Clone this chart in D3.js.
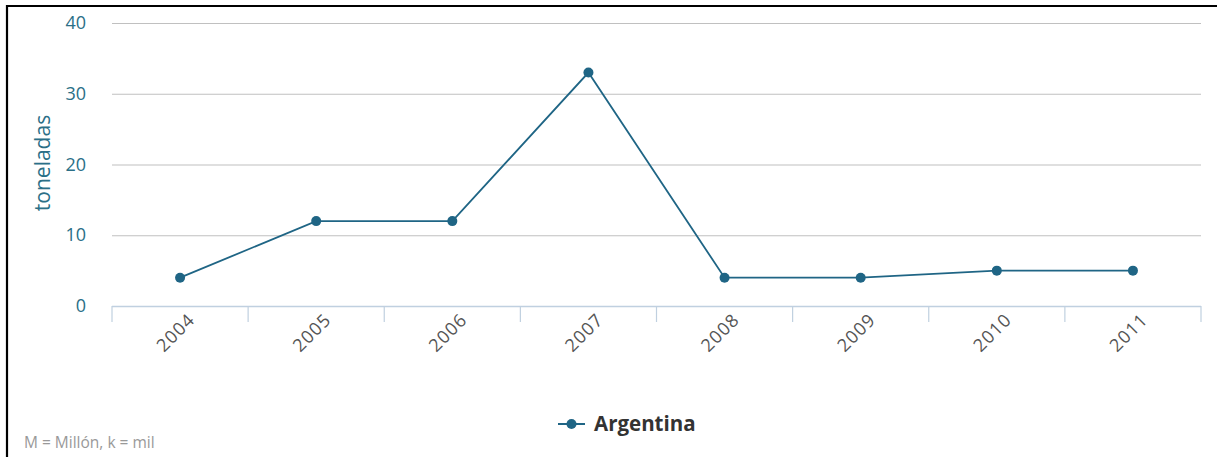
<!DOCTYPE html>
<html><head><meta charset="utf-8">
<script src="https://cdn.jsdelivr.net/npm/d3@7"></script>
<style>
html,body{margin:0;padding:0;background:#fff;}
svg{display:block;font-family:"Open Sans","DejaVu Sans",sans-serif;}
</style></head>
<body>
<svg id="c" width="1217" height="457"></svg>
<script>
const categories = ["2004","2005","2006","2007","2008","2009","2010","2011"];
const values = [4, 12, 12, 33, 4, 4, 5, 5];
const yTicks = [0, 10, 20, 30, 40];
const seriesName = "Argentina";
const yTitle = "toneladas";
const footnote = "M = Millón, k = mil";

(function(){
const svg = d3.select("#c");
const W = 1217, H = 457;
const pL = 112, pR = 1201, pT = 23, pB = 306;
const lineColor = "#1f6585";
const labelColor = "#2b6f87";

// frame (top and left edges)
svg.append("line").attr("x1",7).attr("x2",W).attr("y1",6).attr("y2",6).attr("stroke","#000").attr("stroke-width",2.2);
svg.append("line").attr("x1",7).attr("x2",7).attr("y1",5).attr("y2",H).attr("stroke","#000").attr("stroke-width",2.2);

const x = d3.scaleBand().domain(categories).range([pL, pR]).padding(0);
const y = d3.scaleLinear().domain([0, 40]).range([pB, pT]);

// gridlines
svg.append("g").selectAll("line").data(yTicks.filter(d=>d>0)).join("line")
  .attr("x1", pL).attr("x2", pR)
  .attr("y1", d=>y(d)+0.5).attr("y2", d=>y(d)+0.5)
  .attr("stroke", "#c0c0c0").attr("stroke-width", 1.2);

// y tick labels
svg.append("g").selectAll("text").data(yTicks).join("text")
  .attr("x", 86).attr("y", d=>y(d)+6)
  .attr("text-anchor","end").attr("fill", labelColor)
  .attr("font-size", 18).text(d=>d);

// y title
svg.append("text")
  .attr("transform", `translate(50,${163}) rotate(-90)`)
  .attr("text-anchor","middle").attr("fill", labelColor)
  .attr("font-size", 21).text(yTitle);

// x axis
const gx = svg.append("g").attr("transform", `translate(0,${pB})`);
gx.append("line").attr("x1", pL).attr("x2", pR).attr("y1",0.5).attr("y2",0.5)
  .attr("stroke","#c0d0e0").attr("stroke-width",1.5);
const tickPos = categories.map(c=>x(c)).concat([pR]);
gx.selectAll("line.tk").data(tickPos).join("line").attr("class","tk")
  .attr("x1", d=>d).attr("x2", d=>d).attr("y1",0).attr("y2",16)
  .attr("stroke","#c0d0e0").attr("stroke-width",1.2);
gx.selectAll("text").data(categories).join("text")
  .attr("transform", d=>`translate(${x(d)+x.bandwidth()/2+16},${15}) rotate(-45)`)
  .attr("text-anchor","end").attr("fill","#555").attr("font-size",18)
  .attr("letter-spacing", 1)
  .text(d=>d);

// line
const line = d3.line().x((d,i)=>x(categories[i])+x.bandwidth()/2).y(d=>y(d));
svg.append("path").datum(values).attr("d", line)
  .attr("fill","none").attr("stroke", lineColor).attr("stroke-width",1.8);
svg.append("g").selectAll("circle").data(values).join("circle")
  .attr("cx",(d,i)=>x(categories[i])+x.bandwidth()/2).attr("cy",d=>y(d))
  .attr("r",5).attr("fill",lineColor);

// legend
const lg = svg.append("g").attr("transform","translate(558,424)");
lg.append("line").attr("x1",0).attr("x2",27).attr("y1",0).attr("y2",0).attr("stroke",lineColor).attr("stroke-width",2);
lg.append("circle").attr("cx",13.5).attr("cy",0).attr("r",5).attr("fill",lineColor);
lg.append("text").attr("x",36).attr("y",7).attr("fill","#333").attr("font-size",20.5).attr("font-weight","bold").text(seriesName);

// footnote
svg.append("text").attr("x",24).attr("y",448).attr("fill","#999").attr("font-size",15.5).text(footnote);
})();
</script>
</body></html>
